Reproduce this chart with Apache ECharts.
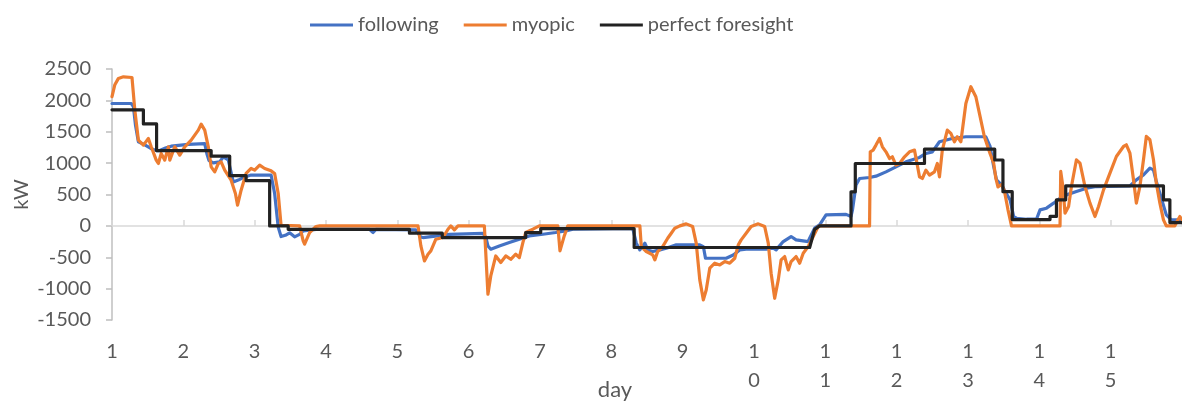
<!DOCTYPE html>
<html>
<head>
<meta charset="utf-8">
<script src="https://cdn.jsdelivr.net/npm/echarts@6.0.0/dist/echarts.min.js"></script>
<style>
html,body{margin:0;padding:0;background:#fff;}
#chart{width:1182px;height:403px;}
</style>
</head>
<body>
<div id="chart"></div>
<script>
// Tick labels on the day axis
const dayLabels = ['1','2','3','4','5','6','7','8','9','10','11','12','13','14','15'];

// Series names
const seriesNames = ['following', 'myopic', 'perfect foresight'];

// following: [day, kW]
const following = [
[1.00,1950],[1.27,1950],[1.30,1900],[1.33,1600],[1.37,1340],[1.46,1290],[1.55,1230],[1.62,1200],[1.67,1200],[1.75,1240],[1.83,1270],[2.07,1300],[2.30,1310],[2.33,1150],[2.36,1040],[2.42,1005],[2.51,1020],[2.56,1100],[2.63,1050],[2.68,800],[2.70,700],[2.77,730],[2.86,780],[2.95,810],[3.23,810],[3.28,515],[3.33,-20],[3.37,-170],[3.43,-150],[3.49,-110],[3.56,-175],[3.63,-135],[3.68,-80],[3.86,-55],[4.61,-55],[4.66,-105],[4.70,-55],[5.26,-65],[5.33,-180],[5.36,-186],[5.73,-135],[6.20,-120],[6.24,-180],[6.27,-320],[6.31,-372],[6.43,-320],[6.57,-266],[6.71,-213],[6.85,-160],[7.04,-133],[7.22,-106],[7.36,-80],[7.46,-53],[8.30,-40],[8.35,-276],[8.40,-383],[8.47,-276],[8.51,-383],[8.58,-409],[8.68,-383],[8.77,-356],[8.91,-303],[9.24,-303],[9.29,-330],[9.32,-516],[9.61,-516],[9.71,-463],[9.80,-383],[9.89,-372],[10.17,-372],[10.27,-356],[10.31,-383],[10.41,-250],[10.52,-170],[10.59,-223],[10.76,-250],[10.78,-197],[10.85,-37],[10.92,16],[11.01,175],[11.29,183],[11.36,150],[11.38,250],[11.43,650],[11.48,755],[11.62,771],[11.71,792],[11.85,861],[11.99,941],[12.13,1021],[12.32,1090],[12.41,1154],[12.50,1180],[12.60,1340],[12.78,1393],[12.97,1420],[13.25,1420],[13.31,1265],[13.36,946],[13.40,734],[13.47,654],[13.52,548],[13.59,415],[13.64,149],[13.68,122],[13.82,106],[13.96,106],[14.01,255],[14.10,282],[14.20,362],[14.29,441],[14.38,494],[14.52,548],[14.66,601],[14.80,627],[15.27,638],[15.36,734],[15.46,813],[15.55,920],[15.60,893],[15.64,707],[15.71,441],[15.78,175],[15.85,96],[16.00,96]
];

// myopic: [day, kW]
const myopic = [
[1.00,2060],[1.04,2250],[1.09,2350],[1.16,2375],[1.28,2365],[1.32,1845],[1.37,1366],[1.44,1287],[1.51,1393],[1.55,1260],[1.62,1047],[1.65,994],[1.69,1154],[1.74,1047],[1.79,1260],[1.81,1047],[1.88,1260],[1.95,1127],[2.02,1260],[2.11,1366],[2.21,1526],[2.25,1622],[2.30,1526],[2.35,1260],[2.39,941],[2.44,861],[2.49,994],[2.53,1021],[2.58,888],[2.67,728],[2.73,516],[2.76,330],[2.81,569],[2.88,835],[2.95,915],[3.00,888],[3.07,968],[3.14,915],[3.23,877],[3.28,835],[3.33,516],[3.37,10],[3.63,0],[3.68,-240],[3.70,-292],[3.77,-106],[3.86,-10],[3.91,0],[5.29,0],[5.33,-319],[5.38,-558],[5.43,-452],[5.47,-399],[5.54,-213],[5.64,-186],[5.71,-53],[5.75,0],[5.80,-64],[5.85,0],[6.22,0],[6.27,-1090],[6.31,-798],[6.38,-479],[6.45,-585],[6.52,-479],[6.59,-532],[6.66,-452],[6.71,-505],[6.76,-266],[6.80,-106],[6.90,-53],[6.99,0],[7.25,0],[7.28,-399],[7.34,-160],[7.39,0],[8.40,0],[8.42,-330],[8.49,-409],[8.58,-463],[8.61,-542],[8.65,-409],[8.72,-330],[8.79,-197],[8.84,-117],[8.89,-37],[8.96,0],[9.05,32],[9.14,-11],[9.19,-276],[9.24,-861],[9.29,-1180],[9.33,-1021],[9.38,-675],[9.45,-595],[9.52,-622],[9.59,-569],[9.66,-595],[9.73,-516],[9.78,-303],[9.82,-223],[9.89,-117],[9.96,-11],[10.06,32],[10.15,-11],[10.20,-276],[10.24,-755],[10.29,-1154],[10.34,-861],[10.38,-542],[10.43,-489],[10.48,-702],[10.52,-569],[10.59,-489],[10.64,-595],[10.69,-436],[10.76,-330],[10.83,-170],[10.90,-11],[10.94,0],[11.62,0],[11.63,1180],[11.67,1207],[11.71,1287],[11.76,1393],[11.80,1260],[11.85,1180],[11.90,1074],[11.94,1101],[11.99,968],[12.04,994],[12.11,1101],[12.18,1180],[12.25,1207],[12.32,782],[12.36,755],[12.41,888],[12.46,808],[12.53,861],[12.57,994],[12.60,782],[12.64,1207],[12.71,1526],[12.76,1473],[12.81,1340],[12.85,1420],[12.90,1340],[12.97,1951],[13.04,2217],[13.11,2058],[13.16,1792],[13.23,1420],[13.27,1287],[13.31,1150],[13.36,1000],[13.39,760],[13.42,620],[13.47,660],[13.51,560],[13.56,260],[13.61,0],[14.29,0],[14.30,867],[14.33,627],[14.36,202],[14.41,308],[14.45,627],[14.52,1053],[14.57,1000],[14.64,627],[14.71,362],[14.78,149],[14.83,308],[14.90,574],[14.99,840],[15.08,1106],[15.18,1265],[15.22,1292],[15.27,1159],[15.32,734],[15.36,362],[15.41,627],[15.46,1053],[15.50,1425],[15.55,1372],[15.60,1053],[15.64,681],[15.69,362],[15.74,96],[15.78,0],[15.90,0],[15.93,69],[15.97,149],[16.00,96]
];

// perfect foresight: [day, kW] (step breakpoints)
const perfectForesight = [
[1.00,1850],[1.44,1850],[1.44,1625],[1.625,1625],[1.625,1200],[2.39,1200],[2.39,1110],[2.65,1110],[2.65,800],[2.88,800],[2.88,720],[3.21,720],[3.21,0],[3.47,0],[3.47,-55],[5.17,-55],[5.17,-117],[5.63,-117],[5.63,-186],[6.80,-186],[6.80,-106],[7.01,-106],[7.01,-45],[8.32,-45],[8.32,-345],[10.78,-345],[10.85,-55],[10.92,0],[11.36,0],[11.36,542],[11.42,542],[11.42,994],[12.39,994],[12.39,1223],[13.375,1223],[13.375,1050],[13.49,1050],[13.49,545],[13.62,545],[13.62,100],[14.15,100],[14.15,150],[14.24,150],[14.24,415],[14.37,415],[14.37,638],[15.74,638],[15.74,415],[15.83,415],[15.83,53],[16.00,53]
];

const FONT = 'Lato, "Open Sans", "Liberation Sans", sans-serif';
const TXT = '#595959';
const COLORS = ['#4472C4', '#ED7D31', '#222222'];

const chart = echarts.init(document.getElementById('chart'), null, {renderer: 'canvas'});

function lineSeries(name, data, color) {
  return {
    name: name,
    type: 'line',
    data: data,
    symbol: 'none',
    showSymbol: false,
    smooth: false,
    xAxisIndex: 0,
    yAxisIndex: 0,
    lineStyle: {color: color, width: 3.2, join: 'round', cap: 'round'},
    itemStyle: {color: color},
    emphasis: {disabled: true},
    animation: false
  };
}

chart.setOption({
  animation: false,
  backgroundColor: '#ffffff',
  textStyle: {fontFamily: FONT},
  legend: {
    left: 305,
    top: 10,
    itemWidth: 43,
    itemHeight: 3,
    itemGap: 25,
    icon: 'rect',
    textStyle: {fontFamily: FONT, fontSize: 20, color: TXT},
    data: seriesNames.map(function (n, i) { return {name: n, icon: 'rect', itemStyle: {color: COLORS[i]}}; })
  },
  grid: {left: 112, right: 0, top: 69, bottom: 83, containLabel: false, outerBoundsMode: 'none'},
  xAxis: [
    {
      type: 'value', min: 1, max: 16, interval: 1, position: 'bottom',
      name: 'day', nameLocation: 'middle', nameGap: 59, nameMoveOverlap: false,
      nameTextStyle: {fontFamily: FONT, fontSize: 22, color: TXT, padding: [0,64,0,0]},
      axisLine: {show: false, onZero: false},
      axisTick: {show: false},
      splitLine: {show: false},
      axisLabel: {
        fontFamily: FONT, fontSize: 20, color: TXT, margin: 17, lineHeight: 29,
        showMaxLabel: true,
        formatter: function (v) {
          const s = dayLabels[Math.round(v) - 1];
          return s ? s.split('').join('\n') : '';
        }
      }
    },
    {
      type: 'value', min: 1, max: 16, interval: 1, position: 'top',
      axisLine: {show: true, onZero: true, onZeroAxisIndex: 0, lineStyle: {color: '#d9d9d9', width: 1.5}},
      axisTick: {show: true, inside: false, length: 6, lineStyle: {color: '#d9d9d9', width: 1.5}},
      axisLabel: {show: false},
      splitLine: {show: false}
    }
  ],
  yAxis: {
    type: 'value', min: -1500, max: 2500, interval: 500,
    name: 'kW', nameLocation: 'middle', nameGap: 80, nameMoveOverlap: false,
    nameTextStyle: {fontFamily: FONT, fontSize: 20, color: TXT},
    axisLine: {show: true, onZero: false, lineStyle: {color: '#bfbfbf', width: 1.5}},
    axisTick: {show: true, length: 6, lineStyle: {color: '#bfbfbf', width: 1.5}},
    splitLine: {show: false},
    axisLabel: {fontFamily: FONT, fontSize: 20, color: TXT, margin: 21,
      formatter: function (v) { return String(v); }}
  },
  series: [
    lineSeries(seriesNames[0], following, COLORS[0]),
    lineSeries(seriesNames[1], myopic, COLORS[1]),
    lineSeries(seriesNames[2], perfectForesight, COLORS[2])
  ]
});
</script>
</body>
</html>
